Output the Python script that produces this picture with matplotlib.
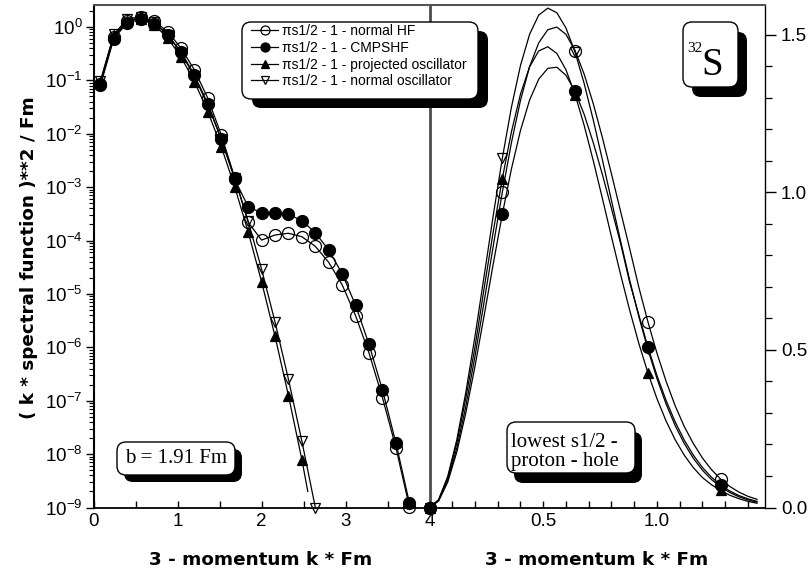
import math

import matplotlib.pyplot as plt
from matplotlib import patheffects
from matplotlib.lines import Line2D
from matplotlib.patches import FancyBboxPatch
from matplotlib.ticker import FixedLocator, LogLocator, MultipleLocator, NullFormatter
from matplotlib.transforms import IdentityTransform


W, H = 810, 573

# momentum grid of the logarithmic panel (k * Fm)
K_LOG = [0.08, 0.24, 0.40, 0.56, 0.72, 0.88, 1.04, 1.20, 1.36, 1.52, 1.68, 1.84,
         2.00, 2.16, 2.32, 2.48, 2.64, 2.80, 2.96, 3.12, 3.28, 3.44, 3.60, 3.76]

HF_LOG = [0.0859, 0.6524, 1.2922, 1.5249, 1.2817, 0.822, 0.401, 0.157, 0.046,
          9.5e-3, 1.5e-3, 2.2e-4, 1.02e-4, 1.27e-4, 1.37e-4, 1.18e-4, 7.8e-5,
          3.9e-5, 1.48e-5, 3.9e-6, 7.8e-7, 1.14e-7, 1.32e-8, 1.04e-9]

CMPSHF_LOG = [0.0804, 0.6086, 1.1968, 1.3975, 1.158, 0.715, 0.340, 0.127, 0.0363,
              7.9e-3, 1.40e-3, 4.3e-4, 3.3e-4, 3.3e-4, 3.1e-4, 2.36e-4, 1.4e-4,
              6.6e-5, 2.4e-5, 6.1e-6, 1.13e-6, 1.58e-7, 1.62e-8, 1.23e-9]

PROJ_K_LOG = [0.08, 0.24, 0.40, 0.56, 0.72, 0.88, 1.04, 1.20, 1.36, 1.52, 1.68,
              1.84, 2.00, 2.16, 2.32, 2.48, 2.55]
PROJ_LOG = [0.0937, 0.6949, 1.3121, 1.4412, 1.1008, 0.6263, 0.2748, 0.0947, 0.02595,
            5.71e-3, 1.01e-3, 1.45e-4, 1.69e-5, 1.61e-6, 1.24e-7, 7.85e-9, 2.0e-9]

OSC_K_LOG = [0.08, 0.24, 0.40, 0.56, 0.72, 0.88, 1.04, 1.20, 1.36, 1.52, 1.68,
             1.84, 2.00, 2.16, 2.32, 2.48, 2.64]
OSC_LOG = [0.0983, 0.7339, 1.4031, 1.5703, 1.2300, 0.7220, 0.3288, 0.1183, 0.03414,
           7.94e-3, 1.50e-3, 2.305e-4, 2.896e-5, 2.98e-6, 2.51e-7, 1.74e-8, 1.0e-9]

# momentum grid of the linear panel
K_LIN = [0.00, 0.04, 0.08, 0.12, 0.16, 0.20, 0.24, 0.28, 0.32, 0.36, 0.40, 0.44,
         0.48, 0.52, 0.56, 0.60, 0.64, 0.68, 0.72, 0.76, 0.80, 0.84, 0.88, 0.92,
         0.96, 1.00, 1.04, 1.08, 1.12, 1.16, 1.20, 1.24, 1.28, 1.32, 1.36, 1.40, 1.44]

HF_LIN = [0.0, 0.0218, 0.0859, 0.1881, 0.3223, 0.4802, 0.6524, 0.8290, 1.0003,
          1.1573, 1.2922, 1.3993, 1.4746, 1.5165, 1.5249, 1.5017, 1.4505, 1.3754,
          1.2817, 1.1744, 1.0589, 0.9402, 0.8220, 0.7000, 0.5900, 0.4900, 0.4010,
          0.3230, 0.2570, 0.2030, 0.1570, 0.1200, 0.0900, 0.0670, 0.0490, 0.0355,
          0.0260]

CMPSHF_LIN = [0.0, 0.0204, 0.0804, 0.1760, 0.3013, 0.4484, 0.6086, 0.7722, 0.9302,
              1.0741, 1.1968, 1.2931, 1.3593, 1.3939, 1.3975, 1.3718, 1.3206, 1.2477,
              1.1580, 1.0571, 0.9490, 0.8386, 0.7150, 0.6120, 0.5100, 0.4190, 0.3400,
              0.2720, 0.2140, 0.1660, 0.1270, 0.0960, 0.0710, 0.0525, 0.0380, 0.0275,
              0.0195]

PROJ_LIN = [0.0, 0.0238, 0.0937, 0.2045, 0.3484, 0.5097, 0.6949, 0.8745, 1.0434,
            1.1918, 1.3121, 1.3987, 1.4490, 1.4624, 1.4412, 1.3891, 1.3108, 1.2127,
            1.1008, 0.9813, 0.8594, 0.7399, 0.6263, 0.5218, 0.4278, 0.3454, 0.2748,
            0.2152, 0.1661, 0.1264, 0.0950, 0.0720, 0.0540, 0.0390, 0.0280, 0.0195,
            0.0135]

OSC_LIN = [0.0, 0.0250, 0.0983, 0.2148, 0.3666, 0.5434, 0.7339, 0.9259, 1.1079,
           1.2698, 1.4031, 1.5019, 1.5628, 1.5851, 1.5703, 1.5219, 1.4450, 1.3458,
           1.2300, 1.1041, 0.9744, 0.8457, 0.7220, 0.6067, 0.5021, 0.4094, 0.3288,
           0.2602, 0.2031, 0.1561, 0.1183, 0.0885, 0.0653, 0.0476, 0.0341, 0.0242,
           0.0169]

LABELS = [
    "\u03c0s1/2 - 1 - normal HF",
    "\u03c0s1/2 - 1 - CMPSHF",
    "\u03c0s1/2 - 1 - projected oscillator",
    "\u03c0s1/2 - 1 - normal oscillator",
]

DECADES = [1e0, 1e-1, 1e-2, 1e-3, 1e-4, 1e-5, 1e-6, 1e-7, 1e-8, 1e-9]

HF_STYLE = dict(marker="o", mfc="none", ms=8.6)
CMPSHF_STYLE = dict(marker="o", mfc="black", ms=8.6)
PROJ_STYLE = dict(marker="^", mfc="black", ms=7.2)
OSC_STYLE = dict(marker="v", mfc="none", ms=7.6)

plt.rcParams["font.family"] = ["Liberation Sans", "DejaVu Sans"]
plt.rcParams["mathtext.fontset"] = "custom"
plt.rcParams["mathtext.rm"] = "Liberation Sans"
plt.rcParams["mathtext.it"] = "Liberation Sans:italic"
plt.rcParams["mathtext.bf"] = "Liberation Sans:bold"


def draw_series(ax, k, values, style, zorder, markevery=None):
    ax.plot(k, values, color="black", lw=0.9, mec="black", mew=0.9,
            markevery=markevery, clip_on=False, zorder=zorder, **style)


def shadow_box(fig, x0, y0, x1, y1, dx, dy, rounding=9):
    # coordinates in pixels from the top-left corner of the figure
    box = FancyBboxPatch((x0, H - y1), x1 - x0, y1 - y0,
                         boxstyle=f"round,pad=0,rounding_size={rounding}",
                         transform=IdentityTransform(), fc="white", ec="black",
                         lw=1.0, zorder=10)
    box.set_path_effects([
        patheffects.SimplePatchShadow(offset=(dx * 0.72, -dy * 0.72),
                                      shadow_rgbFace="black", alpha=1.0),
        patheffects.Normal(),
    ])
    fig.add_artist(box)


def decade_label(value):
    return r"$\mathregular{10^{%d}}$" % round(math.log10(value))


def main():
    fig = plt.figure(figsize=(W / 100, H / 100), dpi=100)

    bottom = (H - 507.5) / H
    height = (507.5 - 5) / H
    ax1 = fig.add_axes([93.7 / W, bottom, (429.5 - 93.7) / W, height])
    ax2 = fig.add_axes([429.5 / W, bottom, (765 - 429.5) / W, height])
    ax2.set_facecolor("none")

    # logarithmic panel
    draw_series(ax1, OSC_K_LOG, OSC_LOG, OSC_STYLE, 3)
    draw_series(ax1, PROJ_K_LOG, PROJ_LOG, PROJ_STYLE, 4,
                markevery=list(range(len(PROJ_K_LOG) - 1)))
    draw_series(ax1, K_LOG, HF_LOG, HF_STYLE, 5)
    draw_series(ax1, K_LOG, CMPSHF_LOG, CMPSHF_STYLE, 6)

    ax1.set_yscale("log")
    ax1.set_xlim(0, 4)
    ax1.set_ylim(1e-9, 10 ** 0.412)
    ax1.yaxis.set_major_locator(FixedLocator(DECADES))
    ax1.set_yticklabels([decade_label(d) for d in DECADES])
    ax1.yaxis.set_minor_locator(LogLocator(base=10, subs=range(2, 10), numticks=20))
    ax1.yaxis.set_minor_formatter(NullFormatter())
    ax1.set_xticks([0, 1, 2, 3, 4])
    ax1.set_xticklabels(["0", "1", "2", "3", "4"])
    ax1.xaxis.set_minor_locator(FixedLocator([0.5, 1.5, 2.5, 3.5]))
    ax1.tick_params(axis="y", which="major", direction="out", length=6, width=1,
                    labelsize=13.5, pad=2)
    ax1.tick_params(axis="y", which="minor", direction="out", length=3.5, width=0.8)
    ax1.tick_params(axis="x", which="both", direction="in", length=5, width=1,
                    labelsize=13.5, pad=4)

    ax1.spines["left"].set_linewidth(1.5)
    ax1.spines["bottom"].set_linewidth(1.3)
    ax1.spines["top"].set_color("#555555")
    ax1.spines["top"].set_linewidth(1.5)
    ax1.spines["right"].set_color("#4d4d4d")
    ax1.spines["right"].set_linewidth(2.0)

    # linear panel
    draw_series(ax2, K_LIN, OSC_LIN, OSC_STYLE, 3, markevery=8)
    draw_series(ax2, K_LIN, PROJ_LIN, PROJ_STYLE, 4, markevery=8)
    draw_series(ax2, K_LIN, HF_LIN, HF_STYLE, 5, markevery=8)
    draw_series(ax2, K_LIN, CMPSHF_LIN, CMPSHF_STYLE, 6, markevery=8)

    ax2.set_xlim(0, 1.475)
    ax2.set_ylim(0, 1.595)
    ax2.set_xticks([0.5, 1.0])
    ax2.set_xticklabels(["0.5", "1.0"])
    ax2.xaxis.set_minor_locator(MultipleLocator(0.1))
    ax2.set_yticks([0.0, 0.5, 1.0, 1.5])
    ax2.set_yticklabels(["0.0", "0.5", "1.0", "1.5"])
    ax2.yaxis.set_minor_locator(MultipleLocator(0.1))
    ax2.yaxis.tick_right()
    ax2.tick_params(axis="y", which="major", direction="out", length=8, width=1,
                    labelsize=13.5, pad=3.5)
    ax2.tick_params(axis="y", which="minor", direction="out", length=5, width=0.9)
    ax2.tick_params(axis="x", which="both", direction="in", length=5, width=1,
                    labelsize=13.5, pad=4)

    ax2.spines["left"].set_visible(False)
    ax2.spines["bottom"].set_linewidth(1.3)
    ax2.spines["top"].set_color("#555555")
    ax2.spines["top"].set_linewidth(1.5)
    ax2.spines["right"].set_linewidth(1.0)

    label_font = dict(family="DejaVu Sans", weight="heavy", size=13.2)
    fig.text(261 / W, 1 - 560 / H, "3 - momentum k * Fm", ha="center", va="center",
             **label_font)
    fig.text(597 / W, 1 - 560 / H, "3 - momentum k * Fm", ha="center", va="center",
             **label_font)
    fig.text(29 / W, 1 - 258 / H, "( k * spectral function )**2 / Fm", rotation=90,
             ha="center", va="center", **label_font)

    # legend box
    shadow_box(fig, 242, 22, 478, 99, 10, 9)
    handles = [
        Line2D([], [], color="black", lw=0.9, mec="black", mew=0.9, marker="o",
               mfc="none", ms=6.5),
        Line2D([], [], color="black", lw=0.9, mec="black", mew=0.9, marker="o",
               mfc="black", ms=6.5),
        Line2D([], [], color="black", lw=0.9, mec="black", mew=0.9, marker="^",
               mfc="black", ms=5.5),
        Line2D([], [], color="black", lw=0.9, mec="black", mew=0.9, marker="v",
               mfc="none", ms=5.5),
    ]
    leg = fig.legend(handles, LABELS, loc="upper left",
                     bbox_to_anchor=(251 / W, 1 - 24 / H), frameon=False,
                     borderpad=0, borderaxespad=0, handlelength=1.95,
                     handletextpad=0.3, labelspacing=0.2, fontsize=10)
    leg.set_zorder(11)

    serif = ["Liberation Serif", "DejaVu Serif"]

    # nucleus label
    shadow_box(fig, 683, 22, 738, 87, 9, 10)
    fig.text(687 / W, 1 - 52 / H, "32", family=serif, size=11, ha="left",
             va="baseline", zorder=12)
    fig.text(701 / W, 1 - 75 / H, "S", family=serif, size=28, ha="left",
             va="baseline", zorder=12)

    # oscillator length
    shadow_box(fig, 117, 442, 235, 475, 7, 7)
    fig.text(176 / W, 1 - 458.5 / H, "b = 1.91 Fm", family=serif, size=15,
             ha="center", va="center", zorder=12)

    # state description
    shadow_box(fig, 507, 422, 635, 473, 7, 10)
    fig.text(511 / W, 1 - 452 / H, "lowest s1/2 -\nproton - hole", family=serif,
             size=15, ha="left", va="center", linespacing=0.95, zorder=12)

    fig.savefig("out.png", dpi=100)
    plt.close(fig)


if __name__ == "__main__":
    main()
